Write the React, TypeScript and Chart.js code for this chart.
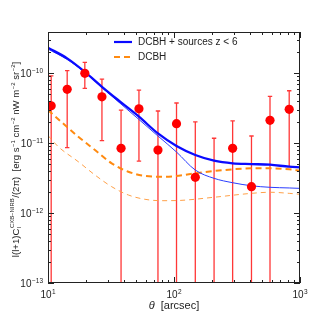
import React, { useEffect, useRef } from "react";
import { Chart, registerables } from "chart.js";
Chart.register(...registerables);

// ---- data ----
const obsTheta = [10.6, 14.2, 19.6, 26.8, 38, 52.7, 74.6, 104.7, 147.6, 208, 292, 412, 578, 821];
const obsValue: (number | null)[] = [3.41e-11, 5.85e-11, 9.9e-11, 4.58e-11, 8.4e-12, 3.09e-11, 7.94e-12, 1.89e-11, 3.24e-12, null, 8.4e-12, 2.38e-12, 2.11e-11, 3.03e-11];
const obsErrHigh = [9.1e-11, 1.08e-10, 1.42e-10, 8.2e-11, 2.96e-11, 5.72e-11, 2.87e-11, 3.73e-11, 2.01e-11, 1.17e-11, 2.08e-11, 1.26e-11, 4.64e-11, 5.59e-11];
const obsErrLow = [1e-15, 8.57e-12, 6.04e-11, 1.08e-11, 1e-15, 5.53e-12, 1e-15, 1e-15, 1e-15, 1e-15, 1e-15, 1e-15, 1e-15, 4.59e-12];

const blueTheta = [10, 14.2, 19.6, 26.8, 38, 52.7, 74.6, 104.7, 147.6, 208, 292, 412, 578, 821, 1000];
const blueThick = [2.3e-10, 1.62e-10, 1.04e-10, 6.37e-11, 3.81e-11, 2.38e-11, 1.37e-11, 9.06e-12, 6.74e-12, 5.59e-12, 5.13e-12, 5.01e-12, 4.9e-12, 4.59e-12, 4.5e-12];
const blueThin = [2.2e-10, 1.56e-10, 1.02e-10, 6.2e-11, 3.6e-11, 2.17e-11, 1.26e-11, 7.44e-12, 4.11e-12, 3.13e-12, 2.71e-12, 2.45e-12, 2.33e-12, 2.28e-12, 2.25e-12];

const orangeThickTheta = [10, 13.6, 17.4, 23.6, 32, 43.4, 58.9, 85, 147.6, 208, 292, 412, 578, 821, 1000];
const orangeThick = [2.96e-11, 1.81e-11, 1.23e-11, 7.94e-12, 5.13e-12, 3.89e-12, 3.38e-12, 3.3e-12, 3.69e-12, 3.98e-12, 4.21e-12, 4.35e-12, 4.35e-12, 4.21e-12, 4.02e-12];
const orangeThinTheta = [10, 12.07, 17.4, 23.6, 32, 43.4, 58.9, 79.8, 108, 208, 412, 578, 821, 1000];
const orangeThin = [1.28e-11, 8.86e-12, 5.41e-12, 3.49e-12, 2.38e-12, 1.81e-12, 1.57e-12, 1.5e-12, 1.51e-12, 1.68e-12, 1.91e-12, 1.98e-12, 1.91e-12, 1.85e-12];

const xMin = 10, xMax = 1000, yMin = 1e-13, yMax = 3.86e-10;
const xTickExps = [1, 2, 3];
const yTickExps = [-13, -12, -11, -10];
const legendLabels = ["DCBH + sources z < 6", "DCBH"];

const FONT = "'Liberation Sans', 'DejaVu Sans', sans-serif";
const BLUE = "#0a0aff";
const ORANGE = "#ff8a10";

function pts(xs: number[], ys: (number | null)[]) {
  return xs.map((x, i) => ({ x, y: ys[i] }));
}

const errorBarPlugin = {
  id: "errbars",
  beforeDatasetsDraw(chart: any) {
    const { ctx, chartArea: a } = chart;
    const xs = chart.scales.x, ys = chart.scales.y;
    ctx.save();
    ctx.beginPath();
    ctx.rect(a.left, a.top, a.right - a.left, a.bottom - a.top);
    ctx.clip();
    ctx.strokeStyle = "rgba(255,20,20,0.85)";
    ctx.lineWidth = 1.3;
    obsTheta.forEach((t, i) => {
      const px = xs.getPixelForValue(t);
      const top = ys.getPixelForValue(obsErrHigh[i]);
      const bot = ys.getPixelForValue(obsErrLow[i]);
      ctx.beginPath();
      ctx.moveTo(px, top);
      ctx.lineTo(px, bot);
      ctx.moveTo(px - 2.2, top);
      ctx.lineTo(px + 2.2, top);
      ctx.moveTo(px - 2.2, bot);
      ctx.lineTo(px + 2.2, bot);
      ctx.stroke();
    });
    ctx.restore();
  },
};

function drawPow(ctx: CanvasRenderingContext2D, x: number, y: number, exp: string, align: "center" | "right") {
  ctx.font = `10px ${FONT}`;
  const wb = ctx.measureText("10").width;
  ctx.font = `6.5px ${FONT}`;
  const we = ctx.measureText(exp).width;
  const total = wb + we + 0.5;
  const x0 = align === "center" ? x - total / 2 : x - total;
  ctx.textAlign = "left";
  ctx.textBaseline = "alphabetic";
  ctx.font = `10px ${FONT}`;
  ctx.fillText("10", x0, y);
  ctx.font = `6.5px ${FONT}`;
  ctx.fillText(exp, x0 + wb + 0.5, y - 4.5);
}

const axesPlugin = {
  id: "axesframe",
  afterDraw(chart: any) {
    const { ctx, chartArea: a } = chart;
    const xs = chart.scales.x, ys = chart.scales.y;
    ctx.save();
    ctx.strokeStyle = "#222";
    ctx.fillStyle = "#222";
    ctx.lineWidth = 1;
    ctx.strokeRect(a.left + 0.5, a.top + 0.5, a.right - a.left - 1, a.bottom - a.top - 1);
    // x ticks
    ctx.beginPath();
    for (let e = 1; e <= 3; e++) {
      for (let m = 1; m <= 9; m++) {
        const v = m * Math.pow(10, e);
        if (v < xMin || v > xMax) continue;
        const px = Math.round(xs.getPixelForValue(v)) + 0.5;
        const len = m === 1 ? 6 : 3;
        ctx.moveTo(px, a.bottom);
        ctx.lineTo(px, a.bottom - len);
        ctx.moveTo(px, a.top);
        ctx.lineTo(px, a.top + len);
      }
    }
    for (let e = -13; e <= -10; e++) {
      for (let m = 1; m <= 9; m++) {
        const v = m * Math.pow(10, e);
        if (v < yMin || v > yMax) continue;
        const py = Math.round(ys.getPixelForValue(v)) + 0.5;
        const len = m === 1 ? 6 : 3;
        ctx.moveTo(a.left, py);
        ctx.lineTo(a.left + len, py);
        ctx.moveTo(a.right, py);
        ctx.lineTo(a.right - len, py);
      }
    }
    ctx.stroke();
    // tick labels
    xTickExps.forEach((e) => {
      const px = xs.getPixelForValue(Math.pow(10, e));
      drawPow(ctx, px, a.bottom + 15, String(e), "center");
    });
    yTickExps.forEach((e) => {
      const py = ys.getPixelForValue(Math.pow(10, e));
      drawPow(ctx, a.left - 5, py + 4, "\u2212" + String(-e), "right");
    });
    // x title
    ctx.textBaseline = "alphabetic";
    ctx.font = `italic 11px ${FONT}`;
    const t1 = "\u03b8";
    ctx.font = `11px ${FONT}`;
    const t2 = "  [arcsec]";
    const w2 = ctx.measureText(t2).width;
    ctx.font = `italic 11px ${FONT}`;
    const w1 = ctx.measureText(t1).width;
    const cx = (a.left + a.right) / 2;
    let x0 = cx - (w1 + w2) / 2;
    ctx.textAlign = "left";
    ctx.fillText(t1, x0, 309);
    ctx.font = `11px ${FONT}`;
    ctx.fillText(t2, x0 + w1, 309);
    // y title
    const segs: { t: string; k: "n" | "sup" | "sub" | "subsup"; t2?: string }[] = [
      { t: "l(l+1)C", k: "n" },
      { t: "l", t2: "CXB\u2212NIRB", k: "subsup" },
      { t: "/(2\u03c0)  [erg s", k: "n" },
      { t: "\u22121", k: "sup" },
      { t: " cm", k: "n" },
      { t: "\u22122", k: "sup" },
      { t: " nW m", k: "n" },
      { t: "\u22122", k: "sup" },
      { t: " sr", k: "n" },
      { t: "\u22122", k: "sup" },
      { t: "]", k: "n" },
    ];
    const fs = 9.6;
    const ss = fs * 0.62;
    const widthOf = (s: any) => {
      if (s.k === "n") { ctx.font = `${fs}px ${FONT}`; return ctx.measureText(s.t).width; }
      ctx.font = `${ss}px ${FONT}`;
      if (s.k === "subsup") return Math.max(ctx.measureText(s.t).width, ctx.measureText(s.t2).width) + 1;
      return ctx.measureText(s.t).width + 0.5;
    };
    const total = segs.reduce((acc, s) => acc + widthOf(s), 0);
    ctx.save();
    ctx.translate(19, (a.top + a.bottom) / 2 + 2);
    ctx.rotate(-Math.PI / 2);
    let cxp = -total / 2;
    segs.forEach((s) => {
      const w = widthOf(s);
      if (s.k === "n") {
        ctx.font = `${fs}px ${FONT}`;
        ctx.fillText(s.t, cxp, 0);
      } else if (s.k === "sup") {
        ctx.font = `${ss}px ${FONT}`;
        ctx.fillText(s.t, cxp + 0.5, -4.5);
      } else {
        ctx.font = `${ss}px ${FONT}`;
        ctx.fillText(s.t, cxp + 0.5, 2);
        ctx.fillText(s.t2 as string, cxp + 0.5, -5);
      }
      cxp += w;
    });
    ctx.restore();
    // legend
    const lx0 = 114, lx1 = 132, tx = 138;
    const ly = [42, 57];
    ctx.lineWidth = 2.2;
    ctx.strokeStyle = BLUE;
    ctx.setLineDash([]);
    ctx.beginPath();
    ctx.moveTo(lx0, ly[0]);
    ctx.lineTo(lx1, ly[0]);
    ctx.stroke();
    ctx.strokeStyle = ORANGE;
    ctx.setLineDash([6, 4]);
    ctx.beginPath();
    ctx.moveTo(lx0, ly[1]);
    ctx.lineTo(lx1, ly[1]);
    ctx.stroke();
    ctx.setLineDash([]);
    ctx.fillStyle = "#222";
    ctx.font = `10px ${FONT}`;
    ctx.textBaseline = "middle";
    ctx.textAlign = "left";
    legendLabels.forEach((l, i) => ctx.fillText(l, tx, ly[i]));
    ctx.restore();
  },
};

export default function App() {
  const ref = useRef<HTMLCanvasElement>(null);
  useEffect(() => {
    if (!ref.current) return;
    const lineBase = { showLine: true, pointRadius: 0, fill: false, cubicInterpolationMode: "monotone" as const };
    const chart = new Chart(ref.current, {
      type: "scatter",
      data: {
        datasets: [
          {
            data: pts(obsTheta, obsValue).filter((p) => p.y !== null) as any,
            pointRadius: 4.6,
            pointBackgroundColor: "#ff0000",
            pointBorderColor: "#ff0000",
            borderWidth: 0,
            order: 0,
          },
          { ...lineBase, data: pts(blueTheta, blueThick), borderColor: BLUE, borderWidth: 2.3, order: 1 },
          { ...lineBase, data: pts(blueTheta, blueThin), borderColor: "#2a3cff", borderWidth: 1, order: 2 },
          { ...lineBase, data: pts(orangeThickTheta, orangeThick), borderColor: ORANGE, borderWidth: 2, borderDash: [6, 4], order: 3 },
          { ...lineBase, data: pts(orangeThinTheta, orangeThin), borderColor: "#ffa048", borderWidth: 1, borderDash: [5, 4], order: 4 },
        ] as any,
      },
      options: {
        animation: false,
        responsive: false,
        maintainAspectRatio: false,
        events: [],
        layout: { padding: { left: 48, right: 15, top: 32, bottom: 32 } },
        plugins: { legend: { display: false }, tooltip: { enabled: false } },
        scales: {
          x: { type: "logarithmic", min: xMin, max: xMax, display: false },
          y: { type: "logarithmic", min: yMin, max: yMax, display: false },
        },
      },
      plugins: [errorBarPlugin, axesPlugin],
    });
    return () => chart.destroy();
  }, []);
  return (
    <div style={{ position: "absolute", left: 0, top: 0, width: 315, height: 315, background: "#fff" }}>
      <canvas ref={ref} width={315} height={315} style={{ display: "block" }} />
    </div>
  );
}
